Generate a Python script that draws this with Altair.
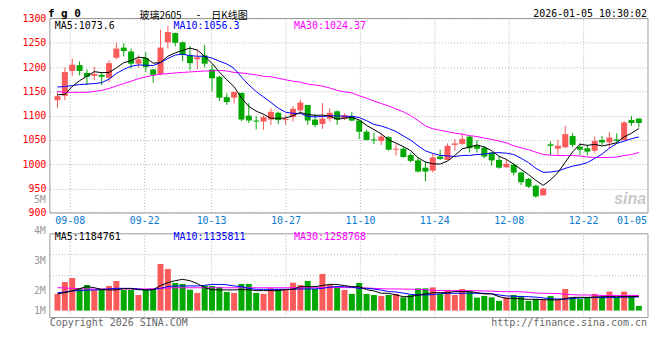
import altair as alt
import pandas as pd

# ---------------- data ----------------
dates = [
    "09-04", "09-05", "09-08", "09-09", "09-10", "09-11", "09-12", "09-15", "09-16", "09-17",
    "09-18", "09-19", "09-22", "09-23", "09-24", "09-25", "09-26", "09-29", "09-30", "10-09",
    "10-10", "10-13", "10-14", "10-15", "10-16", "10-17", "10-20", "10-21", "10-22", "10-23",
    "10-24", "10-27", "10-28", "10-29", "10-30", "10-31", "11-03", "11-04", "11-05", "11-06",
    "11-07", "11-10", "11-11", "11-12", "11-13", "11-14", "11-17", "11-18", "11-19", "11-20",
    "11-21", "11-24", "11-25", "11-26", "11-27", "11-28", "12-01", "12-02", "12-03", "12-04",
    "12-05", "12-08", "12-09", "12-10", "12-11", "12-12", "12-15", "12-16", "12-17", "12-18",
    "12-19", "12-22", "12-23", "12-24", "12-25", "12-26", "12-29", "12-30", "12-31", "01-05",
]
opens = [
    1132, 1141, 1192, 1204, 1188, 1182, 1184, 1178, 1219, 1240,
    1232, 1207, 1219, 1195, 1186, 1251, 1270, 1251, 1224, 1216,
    1224, 1195, 1180, 1138, 1137, 1147, 1100, 1090, 1088, 1092,
    1106, 1091, 1097, 1111, 1122, 1092, 1083, 1094, 1109, 1094,
    1099, 1090, 1067, 1051, 1048, 1056, 1030, 1032, 1019, 1008,
    993, 987, 1016, 1009, 1040, 1042, 1057, 1038, 1034, 1024,
    1009, 994, 999, 983, 970, 956, 936, 1041, 1032, 1035,
    1058, 1036, 1033, 1028, 1050, 1045, 1051, 1050, 1091, 1094,
]
highs = [
    1149, 1199, 1218, 1212, 1195, 1201, 1190, 1214, 1250, 1249,
    1238, 1224, 1231, 1196, 1277, 1285, 1271, 1253, 1243, 1236,
    1246, 1205, 1182, 1146, 1149, 1147, 1126, 1099, 1101, 1115,
    1108, 1101, 1120, 1133, 1122, 1103, 1126, 1115, 1111, 1105,
    1108, 1090, 1071, 1065, 1062, 1058, 1041, 1036, 1024, 1014,
    1005, 1023, 1030, 1043, 1052, 1064, 1058, 1050, 1038, 1025,
    1016, 1009, 1002, 985, 972, 958, 951, 1047, 1050, 1079,
    1064, 1043, 1040, 1057, 1058, 1066, 1064, 1089, 1099, 1095,
]
lows = [
    1116, 1132, 1182, 1183, 1163, 1173, 1163, 1169, 1216, 1222,
    1197, 1199, 1190, 1168, 1183, 1238, 1243, 1212, 1193, 1195,
    1199, 1150, 1130, 1122, 1125, 1089, 1085, 1072, 1071, 1081,
    1083, 1081, 1088, 1105, 1081, 1076, 1073, 1088, 1081, 1091,
    1088, 1052, 1049, 1042, 1040, 1028, 1018, 1013, 1004, 983,
    965, 983, 1009, 1008, 1028, 1040, 1024, 1024, 1013, 997,
    991, 992, 977, 957, 951, 931, 936, 1018, 1019, 1033,
    1035, 1019, 1018, 1023, 1040, 1033, 1042, 1049, 1079, 1076,
]
closes = [
    1140, 1190, 1205, 1192, 1180, 1186, 1180, 1208, 1238, 1233,
    1207, 1216, 1200, 1184, 1240, 1272, 1250, 1225, 1208, 1220,
    1207, 1177, 1137, 1128, 1149, 1092, 1090, 1088, 1097, 1108,
    1091, 1093, 1114, 1127, 1090, 1081, 1094, 1106, 1092, 1101,
    1090, 1067, 1050, 1049, 1057, 1030, 1032, 1015, 1007, 985,
    985, 1014, 1011, 1038, 1043, 1052, 1033, 1032, 1016, 1008,
    993, 1001, 983, 963, 954, 934, 950, 1038, 1038, 1062,
    1040, 1030, 1026, 1048, 1045, 1055, 1048, 1086, 1085, 1085,
]
ma5 = [
    1143, 1144, 1160, 1172, 1181.3, 1190.6, 1188.5, 1189.0, 1198.3, 1209.0,
    1213.1, 1220.3, 1218.8, 1208.0, 1209.4, 1222.4, 1229.2, 1234.3, 1239.0, 1235.2,
    1222.2, 1207.6, 1189.9, 1173.9, 1159.6, 1136.7, 1119.2, 1109.3, 1103.0, 1094.8,
    1094.5, 1095.1, 1100.3, 1106.4, 1102.7, 1100.7, 1101.1, 1099.5, 1092.6, 1094.9,
    1096.7, 1091.2, 1080.0, 1071.4, 1062.5, 1050.5, 1043.5, 1036.4, 1027.9, 1013.5,
    1004.7, 1001.1, 1000.4, 1006.7, 1018.3, 1031.7, 1035.5, 1039.8, 1035.3, 1028.1,
    1016.4, 1010.0, 1000.1, 989.5, 978.8, 967.0, 956.7, 967.8, 982.8, 1004.3,
    1025.4, 1041.4, 1038.9, 1041.0, 1037.7, 1040.7, 1044.4, 1056.4, 1063.9, 1073.6,
]
ma10 = [
    1159, 1160, 1162, 1164, 1165, 1166, 1168, 1175, 1187, 1195.1,
    1201.8, 1204.4, 1203.9, 1203.2, 1209.2, 1217.7, 1224.8, 1226.5, 1223.5, 1222.3,
    1222.3, 1218.4, 1212.1, 1206.5, 1197.4, 1179.4, 1163.4, 1149.6, 1138.4, 1127.2,
    1115.6, 1107.1, 1104.8, 1104.7, 1098.7, 1097.6, 1098.1, 1099.9, 1099.5, 1098.8,
    1098.7, 1096.1, 1089.8, 1082.0, 1078.7, 1073.6, 1067.3, 1058.2, 1049.7, 1038.0,
    1027.6, 1022.3, 1018.4, 1017.3, 1015.9, 1018.2, 1018.3, 1020.1, 1021.0, 1023.2,
    1024.0, 1022.8, 1019.9, 1012.4, 1003.5, 991.7, 983.4, 984.0, 986.2, 991.6,
    996.2, 999.1, 1003.4, 1011.9, 1021.0, 1033.1, 1042.9, 1047.7, 1052.5, 1056.3,
]
ma30 = [
    1150, 1148, 1148, 1148, 1148, 1150, 1152, 1156, 1161, 1166,
    1171, 1176, 1180, 1183, 1185.5, 1186.5, 1188, 1189, 1190, 1191,
    1192, 1192, 1193, 1192, 1189, 1188, 1186, 1184, 1181, 1180,
    1177, 1174, 1171, 1169, 1165, 1163, 1161, 1157, 1152, 1149,
    1147, 1141, 1136, 1130, 1125, 1120, 1114, 1108, 1100, 1090,
    1079, 1073, 1070, 1067, 1064, 1062, 1059, 1057, 1054, 1051,
    1048, 1044, 1038, 1034, 1030, 1025, 1020, 1019, 1018, 1018,
    1018, 1017, 1015, 1014, 1014, 1014, 1015, 1018, 1020, 1024.37,
]
# volume, millions of lots
vol_m = [
    1.39, 2.38, 2.71, 1.85, 2.13, 1.72, 1.83, 2.05, 2.47, 1.72,
    1.72, 1.30, 1.72, 1.77, 3.88, 3.46, 2.30, 2.22, 1.74, 1.47,
    2.10, 2.05, 1.97, 1.55, 1.47, 2.22, 2.22, 1.47, 1.39, 1.85,
    1.80, 1.72, 2.32, 2.13, 2.47, 1.80, 3.05, 2.16, 1.99, 1.72,
    1.39, 2.30, 1.39, 1.30, 1.22, 1.30, 1.39, 1.10, 1.30, 1.85,
    1.85, 1.93, 1.39, 1.72, 1.30, 1.80, 1.58, 1.08, 1.22, 1.10,
    0.81, 1.10, 1.30, 1.22, 0.81, 0.97, 0.89, 1.22, 0.89, 1.80,
    1.10, 0.97, 1.10, 1.39, 1.10, 1.58, 1.10, 1.58, 1.30, 0.39,
]
vma5 = [
    1.39, 1.49, 1.64, 1.83, 1.99, 1.91, 1.74, 1.72, 1.72, 1.83,
    1.83, 1.74, 1.72, 1.74, 2.08, 2.32, 2.49, 2.60, 2.49, 2.24,
    1.91, 1.74, 1.72, 1.72, 1.72, 1.74, 1.74, 1.66, 1.66, 1.66,
    1.66, 1.74, 1.77, 1.99, 1.99, 1.99, 2.08, 2.18, 2.18, 2.08,
    1.99, 1.99, 1.74, 1.64, 1.44, 1.44, 1.30, 1.16, 1.16, 1.30,
    1.39, 1.49, 1.49, 1.49, 1.58, 1.58, 1.58, 1.49, 1.39, 1.39,
    1.16, 1.02, 1.02, 0.97, 0.94, 0.94, 0.91, 0.89, 0.89, 1.00,
    1.10, 1.10, 1.10, 1.12, 1.16, 1.16, 1.16, 1.16, 1.16, 1.185,
]
vma10 = [
    1.49, 1.55, 1.64, 1.66, 1.70, 1.72, 1.75, 1.80, 1.85, 1.85,
    1.85, 1.80, 1.72, 1.75, 1.85, 2.00, 2.05, 2.05, 2.05, 2.05,
    2.10, 2.18, 2.18, 2.15, 2.05, 2.00, 1.85, 1.77, 1.77, 1.77,
    1.77, 1.77, 1.78, 1.80, 1.80, 1.80, 1.85, 1.95, 2.00, 1.99,
    1.95, 1.85, 1.85, 1.80, 1.70, 1.58, 1.55, 1.45, 1.35, 1.30,
    1.30, 1.33, 1.40, 1.44, 1.44, 1.44, 1.44, 1.44, 1.44, 1.40,
    1.30, 1.22, 1.20, 1.16, 1.16, 1.12, 1.05, 0.99, 0.96, 0.95,
    1.00, 1.05, 1.08, 1.08, 1.08, 1.08, 1.10, 1.12, 1.13, 1.136,
]
vma30 = [
    1.91, 1.88, 1.85, 1.82, 1.80, 1.80, 1.80, 1.80, 1.80, 1.80,
    1.80, 1.80, 1.80, 1.82, 1.86, 1.88, 1.90, 1.90, 1.90, 1.90,
    1.90, 1.90, 1.90, 1.90, 1.90, 1.90, 1.90, 1.90, 1.90, 1.90,
    1.90, 1.90, 1.90, 1.90, 1.90, 1.90, 1.91, 1.91, 1.91, 1.91,
    1.91, 1.90, 1.88, 1.85, 1.82, 1.80, 1.80, 1.79, 1.78, 1.76,
    1.74, 1.70, 1.67, 1.66, 1.66, 1.66, 1.66, 1.65, 1.64, 1.62,
    1.58, 1.58, 1.57, 1.56, 1.52, 1.46, 1.44, 1.43, 1.42, 1.36,
    1.32, 1.30, 1.30, 1.28, 1.26, 1.26, 1.26, 1.26, 1.26, 1.259,
]
grid_labels = ["09-08", "09-22", "10-13", "10-27", "11-10", "11-24", "12-08", "12-22"]
last_label = "01-05"
price_ticks = [900, 950, 1000, 1050, 1100, 1150, 1200, 1250, 1300]
vol_label_text = ["5M", "4M", "3M", "2M", "1M"]
vol_label_at_m = [9.21, 6.64, 4.15, 1.66, 0.0]
vol_grid_m = [4.65, 2.9]

title_parts = ["玻璃2605", "-", "日K线图"]
price_legend = ["MA5:1073.6", "MA10:1056.3", "MA30:1024.37"]
vol_legend = ["MA5:1184761", "MA10:1135811", "MA30:1258768"]

# ---------------- styling ----------------
RED = "#F95A5A"
GREEN = "#00A800"
GRID = "#B4B4B4"
BORDER = "#9A9A9A"
MONO = "DejaVu Sans Mono"
CJK = "Noto Sans CJK SC"
W, H = 600, 300

n = len(dates)
df = pd.DataFrame({
    "idx": list(range(n)), "date": dates,
    "open": opens, "high": highs, "low": lows, "close": closes,
    "ma5": ma5, "ma10": ma10, "ma30": ma30,
    "vol": vol_m, "vma5": vma5, "vma10": vma10, "vma30": vma30,
})
grid_df = pd.DataFrame({"slot": [dates.index(d) for d in grid_labels], "label": grid_labels})

xs = alt.Scale(domain=[-0.36, 79.57], nice=False, zero=False)
X = alt.X("idx:Q", scale=xs, axis=None)
GX = alt.X("gx:Q", scale=xs, axis=None)

pscale = alt.Scale(domain=[900, 1300], range=[195, 0], nice=False, zero=False)
paxis = alt.Axis(values=price_ticks, orient="left", grid=True, gridColor=GRID,
                 gridDash=[1, 2], gridWidth=1, domain=False, ticks=False, tickSize=0,
                 labelPadding=4, labelColor="#FF0000", labelFont=MONO, labelFontSize=10,
                 labelOverlap=False, format="d", title=None)
vscale = alt.Scale(domain=[-0.581, 6.391], range=[300, 216], nice=False, zero=False)

updown = alt.when(alt.datum.close >= alt.datum.open).then(alt.value(RED)).otherwise(alt.value(GREEN))
vol_color = alt.when(alt.datum.close >= alt.datum.open).then(alt.value(RED)).otherwise(alt.value(GREEN))

base = alt.Chart(df)
grid_base = alt.Chart(grid_df).transform_calculate(gx="datum.slot * 1.0111 - 0.29")

# ---- price panel ----
p_vgrid = grid_base.mark_rule(color=GRID, strokeDash=[1, 2], strokeWidth=1).encode(
    x=GX, y=alt.Y("p0:Q", scale=pscale, axis=paxis), y2="p1:Q"
).transform_calculate(p0="900", p1="1300")
p_border = grid_base.transform_aggregate(c="count()").transform_calculate(
    p0="900", p1="1300").mark_rect(fillOpacity=0, stroke=BORDER, strokeWidth=1).encode(
    x=alt.value(0), x2=alt.value(W), y=alt.Y("p1:Q", scale=pscale, axis=paxis), y2="p0:Q")
wick = base.mark_rule(strokeWidth=1).encode(
    x=X, y=alt.Y("low:Q", scale=pscale, axis=paxis), y2="high:Q", color=updown)
body = base.mark_bar(size=6).encode(
    x=X, y=alt.Y("open:Q", scale=pscale, axis=paxis), y2="close:Q", color=updown)
l5 = base.mark_line(color="#000000", strokeWidth=1).encode(x=X, y=alt.Y("ma5:Q", scale=pscale, axis=paxis))
l10 = base.mark_line(color="#0000FF", strokeWidth=1).encode(x=X, y=alt.Y("ma10:Q", scale=pscale, axis=paxis))
l30 = base.mark_line(color="#FF00FF", strokeWidth=1).encode(x=X, y=alt.Y("ma30:Q", scale=pscale, axis=paxis))
price = alt.layer(p_vgrid, wick, body, l30, l10, l5, p_border)

# ---- volume panel ----
v_vgrid = grid_base.mark_rule(color=GRID, strokeDash=[1, 2], strokeWidth=1).encode(
    x=GX, y=alt.Y("v0:Q", scale=vscale, axis=None), y2="v1:Q"
).transform_calculate(v0="-0.581", v1="6.391")
v_hgrid = alt.Chart(pd.DataFrame({"v": vol_grid_m})).mark_rule(
    color=GRID, strokeDash=[1, 2], strokeWidth=1).encode(
    y=alt.Y("v:Q", scale=vscale, axis=None), x=alt.value(0), x2=alt.value(W))
v_border = grid_base.transform_aggregate(c="count()").transform_calculate(
    v0="-0.581", v1="6.391").mark_rect(fillOpacity=0, stroke=BORDER, strokeWidth=1).encode(
    x=alt.value(0), x2=alt.value(W), y=alt.Y("v1:Q", scale=vscale, axis=None), y2="v0:Q")
vbars = base.mark_bar(size=6).encode(
    x=X, y=alt.Y("vol:Q", scale=vscale, axis=None), y2=alt.datum(0), color=vol_color)
vl5 = base.mark_line(color="#000000", strokeWidth=1).encode(x=X, y=alt.Y("vma5:Q", scale=vscale, axis=None))
vl10 = base.mark_line(color="#0000FF", strokeWidth=1).encode(x=X, y=alt.Y("vma10:Q", scale=vscale, axis=None))
vl30 = base.mark_line(color="#FF00FF", strokeWidth=1).encode(x=X, y=alt.Y("vma30:Q", scale=vscale, axis=None))
vlabels = alt.Chart(pd.DataFrame({"t": vol_label_text, "v": vol_label_at_m})).mark_text(
    align="right", baseline="middle", font=MONO, fontSize=10, color="#999999").encode(
    text="t:N", y=alt.Y("v:Q", scale=vscale, axis=None), x=alt.value(-4))
volume = alt.layer(v_vgrid, v_hgrid, vbars, vl30, vl10, vl5, v_border, vlabels)


# ---- texts ----
def label(t, x, y, color="#000000", size=10, align="left", font=MONO, weight="normal", style="normal"):
    return alt.Chart(pd.DataFrame({"t": [t]})).mark_text(
        align=align, baseline="middle", font=font, fontSize=size, color=color,
        fontWeight=weight, fontStyle=style).encode(text="t:N", x=alt.value(x), y=alt.value(y))


date_text = grid_base.mark_text(baseline="middle", font=MONO, fontSize=10, color="#0A7AD0").encode(
    x=GX, y=alt.value(203), text="label:N")
texts = [
    date_text,
    label(last_label, 599, 203, color="#0A7AD0", align="right"),
    label("f g 0", -2, -4, size=11, weight="bold"),
    label(title_parts[0], 90, -2.8, size=10, font=CJK),
    label(title_parts[1], 146, -3.4, size=10, font=MONO),
    label(title_parts[2], 162, -2.8, size=10, font=CJK),
    label("2026-01-05 10:30:02", 599, -4, align="right"),
    label(price_legend[0], 5, 8),
    label(price_legend[1], 124, 8, color="#0000FF"),
    label(price_legend[2], 245, 8, color="#FF00FF"),
    label(vol_legend[0], 5, 219.7),
    label(vol_legend[1], 124, 219.7, color="#0000FF"),
    label(vol_legend[2], 245, 219.7, color="#FF00FF"),
    label("Copyright 2026 SINA.COM", 0, 305.3, color="#666666"),
    label("http://finance.sina.com.cn", 599, 305.3, color="#666666", align="right"),
    label("sina", 598, 181, color="#C8C8C8", size=16, align="right",
          font="Liberation Sans", weight="bold", style="italic"),
]

chart = alt.layer(price, volume, *texts).resolve_scale(y="independent").properties(
    width=W, height=H,
    padding={"left": 42, "top": 10, "right": 4, "bottom": 22},
    autosize=alt.AutoSizeParams(type="none"),
    background="#FFFFFF",
).configure_view(stroke=None)

chart.save("out.html", embed_options={"renderer": "svg", "actions": False})
